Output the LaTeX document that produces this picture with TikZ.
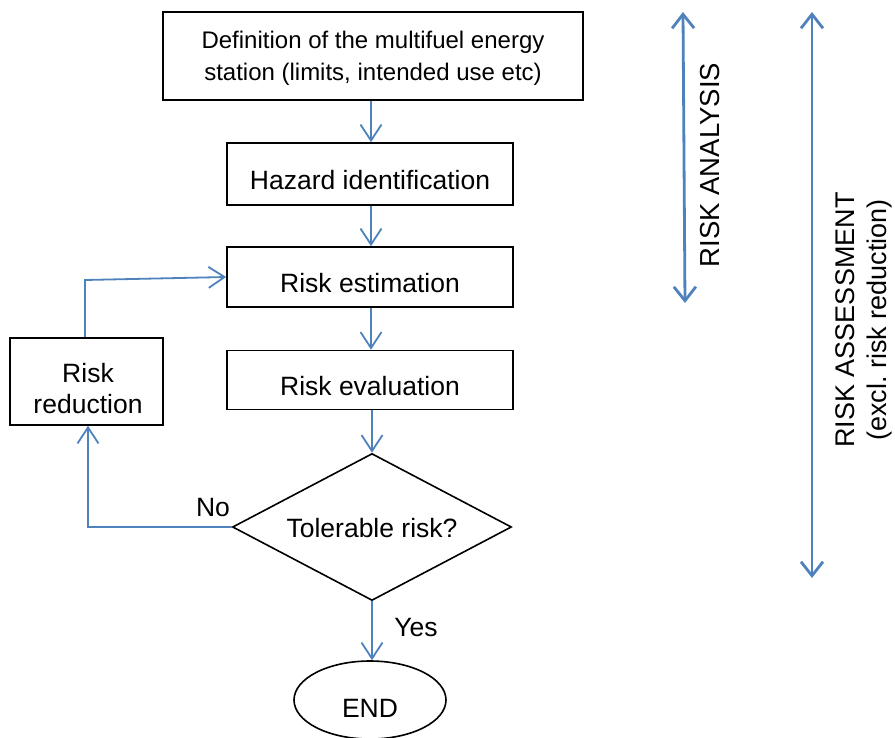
\documentclass[tikz,border=0pt]{standalone}
\usepackage{fontspec}
\setmainfont{Liberation Sans}
\usetikzlibrary{shapes.geometric,arrows.meta}
\definecolor{lineblue}{RGB}{79,129,189}
\frenchspacing
\begin{document}
\begin{tikzpicture}[x=1pt,y=-1pt,
  every node/.style={font=\fontsize{26.5}{31}\selectfont, inner sep=0pt},
  box/.style={draw=black, line width=1.6pt, rectangle},
  lbl/.style={align=center},
  flow/.style={draw=lineblue, line width=1.8pt, -{Straight Barb[length=16pt,width=21pt,line width=1.8pt]}},
  span/.style={draw=lineblue, line width=2.8pt, {Straight Barb[length=14pt,width=22pt,line width=2.8pt]}-{Straight Barb[length=14pt,width=22pt,line width=2.8pt]}}]
\useasboundingbox (0,0) rectangle (895,737);
% boxes
\node[box, minimum width=420pt, minimum height=88pt] (def) at (373,56) {};
\node[box, minimum width=286pt, minimum height=62pt] (haz) at (370,174) {};
\node[box, minimum width=286pt, minimum height=60pt] (est) at (370,277) {};
\node[box, minimum width=286pt, minimum height=59pt] (eva) at (370,380) {};
\node[box, minimum width=153pt, minimum height=87pt] (red) at (86.5,381.5) {};
\node[draw=black, line width=1.6pt, diamond, aspect=1.898, minimum width=279pt, minimum height=147pt] (tol) at (372,527) {};
\node[draw=black, line width=1.6pt, ellipse, minimum width=152pt, minimum height=78pt] (end) at (370,700) {};
% texts
\node[lbl, font=\fontsize{24}{32}\selectfont] (def-t) at (373,58) {Definition of the multifuel energy\\station (limits, intended use etc)};
\node[lbl] (haz-t) at (370,180) {Hazard identification};
\node[lbl] (est-t) at (370,283) {Risk estimation};
\node[lbl] (eva-t) at (370,386) {Risk evaluation};
\node[lbl] (red-t) at (88,389) {Risk\\reduction};
\node[lbl] (tol-t) at (372,528) {Tolerable risk?};
\node[lbl] (end-t) at (370,708) {END};
% connectors
\draw[flow] (def.south -| 371,0) -- (haz.north -| 371,0);
\draw[flow] (haz.south -| 371,0) -- (est.north -| 371,0);
\draw[flow] (est.south -| 371,0) -- (eva.north -| 371,0);
\draw[flow] (eva.south -| 372,0) -- (tol.north);
\draw[flow] (tol.south) -- (end.north -| tol.south);
\draw[flow] (tol.west) -| (red.south -| 88,0);
\draw[flow] (red.north -| 85,0) -- (85,280) -- (est.west);
\node (no) at (213,508) {No};
\node (yes) at (416,628) {Yes};
% side spans
\coordinate (a1) at (683,12);
\coordinate (a2) at (685,303);
\coordinate (b1) at (812,12);
\coordinate (b2) at (812,578);
\draw[span] (a1) -- (a2);
\draw[span] (b1) -- (b2);
\node[rotate=90, font=\fontsize{27.5}{32}\selectfont] (ana) at (710,165) {RISK ANALYSIS};
\node[rotate=90, align=center, font=\fontsize{27}{32}\selectfont] (ass) at (864,320) {RISK ASSESSMENT\\(excl.\ risk reduction)};
\end{tikzpicture}
\end{document}
